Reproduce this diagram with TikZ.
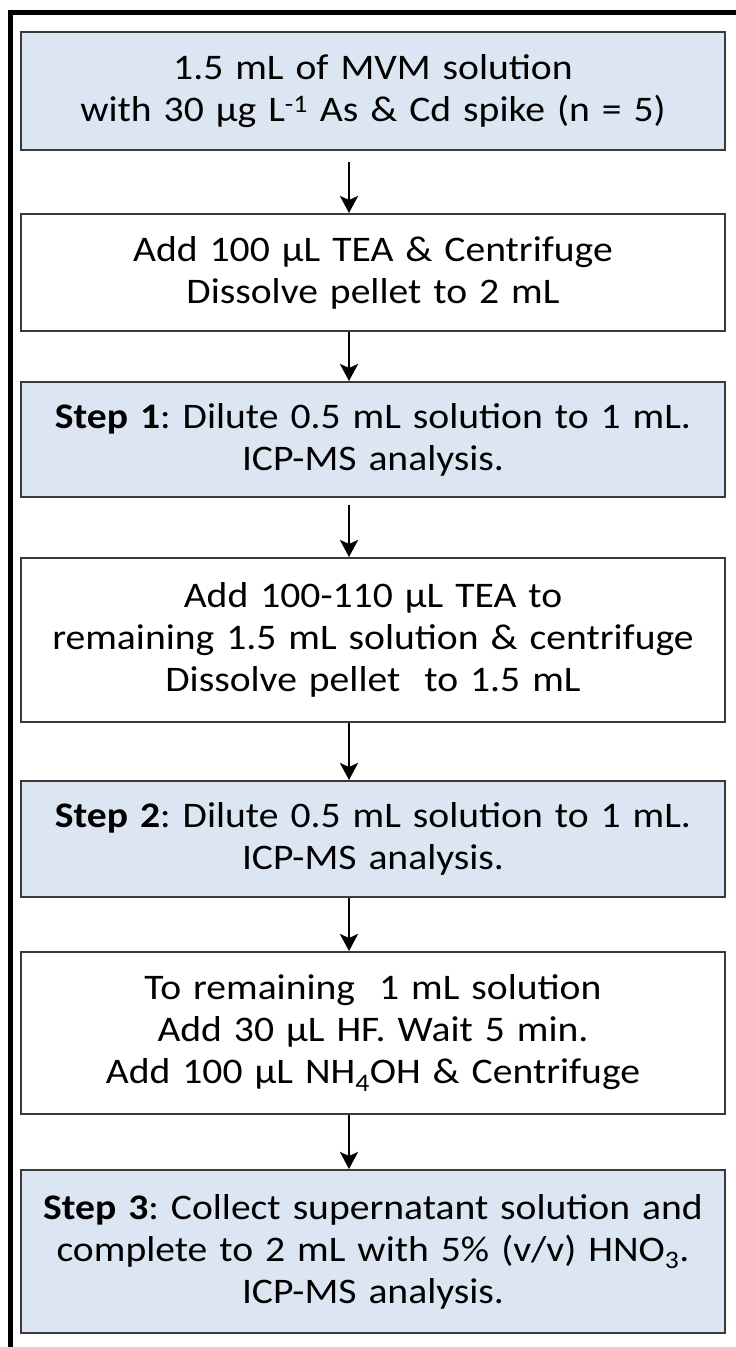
\documentclass[tikz,border=0pt]{standalone}
\usepackage{fontspec}
\setmainfont{Carlito}[FakeStretch=1.1]
\usetikzlibrary{arrows.meta}
\definecolor{boxblue}{HTML}{DCE6F2}
\definecolor{boxline}{HTML}{3A3A3A}
\tikzset{
  stepbox/.style={draw=boxline, line width=2pt, minimum width=704pt, text width=690pt,
    inner xsep=7pt, inner ysep=0pt, align=center, font=\fontsize{36}{42}\selectfont},
  bluebox/.style={stepbox, fill=boxblue},
  whitebox/.style={stepbox, fill=white},
  arr/.style={line width=2.8pt, -{Stealth[length=17pt, width=18pt, inset=4pt]}}
}
\frenchspacing
\begin{document}
\begin{tikzpicture}[x=1pt, y=-1pt]
\useasboundingbox (0,0) rectangle (736,1347);
\fill[white] (0,0) rectangle (736,1347);
% outer frame (left and top)
\draw[line width=5pt] (10.5,1347) -- (10.5,12.5) -- (736,12.5);

\node[bluebox, minimum height=118pt] (b1) at (373,91)
  {1.5 mL of MVM solution\\with 30 µg L\textsuperscript{-1} As \& Cd spike (n = 5)};
\node[whitebox, minimum height=117pt] (b2) at (373,272.5)
  {Add 100 µL TEA \& Centrifuge\\Dissolve pellet to 2 mL};
\node[bluebox, minimum height=115pt] (b3) at (373,439.5)
  {\textbf{Step 1}: Dilute 0.5 mL solution to 1 mL.\\ICP-MS analysis.};
\node[whitebox, minimum height=164pt] (b4) at (373,640)
  {Add 100-110 µL TEA to\\remaining 1.5 mL solution \& centrifuge\\Dissolve pellet\ \ to 1.5 mL};
\node[bluebox, minimum height=116pt] (b5) at (373,839)
  {\textbf{Step 2}: Dilute 0.5 mL solution to 1 mL.\\ICP-MS analysis.};
\node[whitebox, minimum height=162pt] (b6) at (373,1033)
  {To remaining\ \ 1 mL solution\\Add 30 µL HF. Wait 5 min.\\Add 100 µL NH\textsubscript{4}OH \& Centrifuge};
\node[bluebox, minimum height=163pt] (b7) at (373,1251.5)
  {\textbf{Step 3}: Collect supernatant solution and\\complete to 2 mL with 5\% (v/v) HNO\textsubscript{3}.\\ICP-MS analysis.};

\coordinate (ax) at (349,0);
\draw[arr, shorten <=11pt] (b1.south -| ax) -- (b2.north -| ax);
\draw[arr] (b2.south -| ax) -- (b3.north -| ax);
\draw[arr, shorten <=7pt] (b3.south -| ax) -- (b4.north -| ax);
\draw[arr] (b4.south -| ax) -- (b5.north -| ax);
\draw[arr] (b5.south -| ax) -- (b6.north -| ax);
\draw[arr] (b6.south -| ax) -- (b7.north -| ax);
\end{tikzpicture}
\end{document}
